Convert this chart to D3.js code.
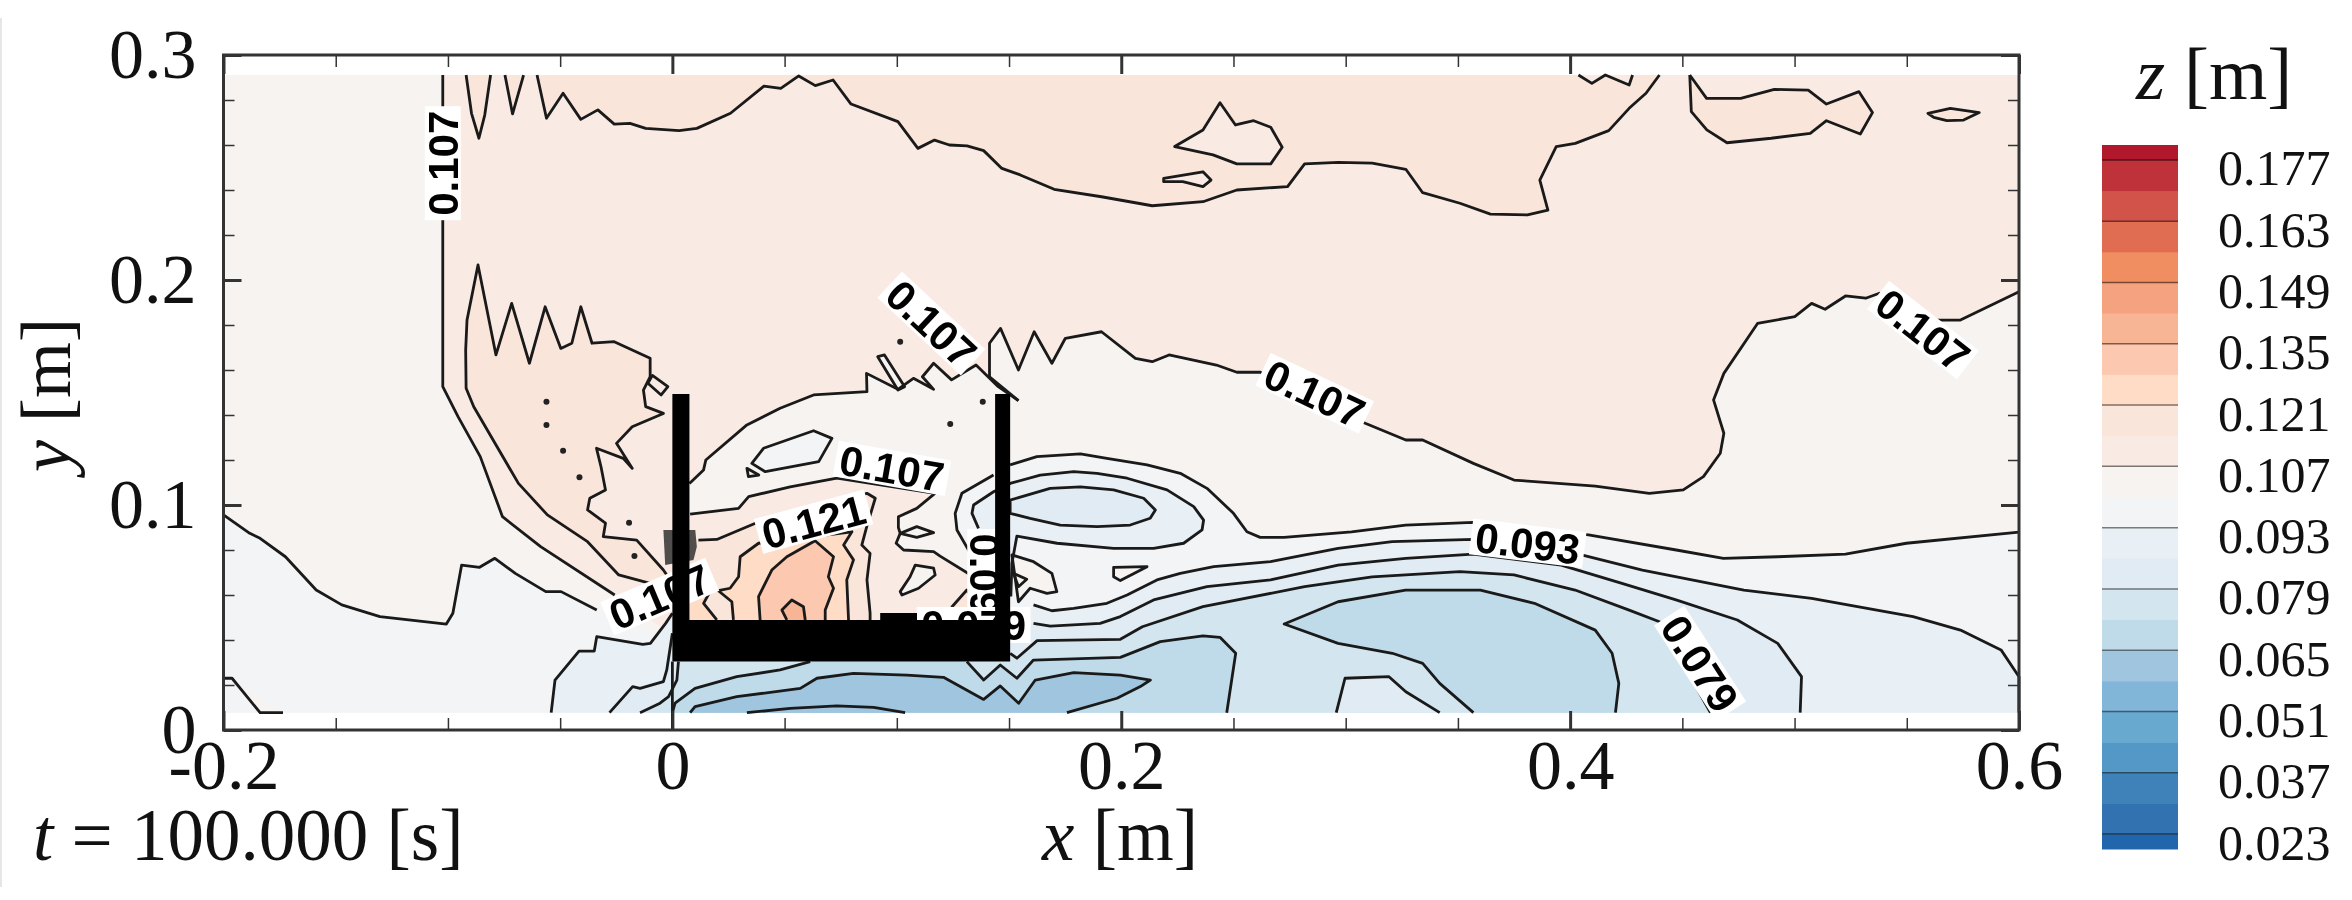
<!DOCTYPE html>
<html>
<head>
<meta charset="utf-8">
<script src="https://cdn.jsdelivr.net/npm/d3@7"></script>
<style>
    html, body { margin: 0; padding: 0; background: #fff; }
    svg { display: block; filter: blur(0.7px); }
    text { font-family: "Liberation Serif", serif; fill: #111; }
    .contour-label { font-family: "Liberation Sans", sans-serif; font-weight: bold; fill: #000; }
</style>
</head>
<body>
<svg id="chart" width="2352" height="900"></svg>
<script>
// Axis ticks
const xMajor = [-0.2, 0, 0.2, 0.4, 0.6];
const xLabels = ['-0.2', '0', '0.2', '0.4', '0.6'];
const xMinor = [-0.15, -0.1, -0.05, 0.05, 0.1, 0.15, 0.25, 0.3, 0.35, 0.45, 0.5, 0.55];
const yMajor = [0, 0.1, 0.2, 0.3];
const yLabels = ['0', '0.1', '0.2', '0.3'];
const yMinor = [0.02, 0.04, 0.06, 0.08, 0.12, 0.14, 0.16, 0.18, 0.22, 0.24, 0.26, 0.28];

// Colour legend
const bandEdges = [0.023, 0.03, 0.037, 0.044, 0.051, 0.058, 0.065, 0.072, 0.079, 0.086, 0.093, 0.1, 0.107,
    0.114, 0.121, 0.128, 0.135, 0.142, 0.149, 0.156, 0.163, 0.17, 0.177];
const bandColors = ['#2166ac', '#3372b0', '#3f81b9', '#5498c7', '#68a9d0', '#82b6d8', '#9fc5df', '#bfdbea',
    '#d3e6f0', '#e0ebf3', '#e8eff5', '#f3f4f6', '#f6f3f0', '#f9ebe4', '#f9e5d9', '#fedcc6', '#fcc8b0',
    '#f7b596', '#f4a27f', '#f08e62', '#e06d52', '#d1534a', '#c0323a', '#b2182b'];
const legendLevels = [0.177, 0.163, 0.149, 0.135, 0.121, 0.107, 0.093, 0.079, 0.065, 0.051, 0.037, 0.023];
const legendRange = [0.0196, 0.1804];

// Extent of the sampled field
const fieldX = [-0.2, 0.6];
const fieldY = [0.0077, 0.2911];

// Contours, [x, y] in metres
const line107Left = [[-0.1023, 0.2911], [-0.1023, 0.1526], [-0.0955, 0.1393], [-0.0856, 0.1215], [-0.0757, 0.0948],
    [-0.0587, 0.0815], [-0.0257, 0.06]];
const line107Cavity = [[0.0076, 0.1096], [0.0139, 0.1156], [0.0149, 0.12], [0.0332, 0.1356], [0.048, 0.143],
    [0.0629, 0.1489], [0.0867, 0.1504], [0.0865, 0.1585], [0.1005, 0.1514], [0.1074, 0.1563], [0.1164, 0.1514],
    [0.1114, 0.157], [0.1164, 0.163], [0.1244, 0.1556], [0.1353, 0.1622], [0.1452, 0.1526], [0.1542, 0.1464]];
const line107Right = [[0.1542, 0.1464], [0.1413, 0.157], [0.1413, 0.1719], [0.1462, 0.1785], [0.1542, 0.16],
    [0.1612, 0.177], [0.1691, 0.163], [0.1751, 0.1741], [0.1912, 0.177], [0.2063, 0.1652], [0.2138, 0.1637],
    [0.2213, 0.1667], [0.2424, 0.1622], [0.2515, 0.159], [0.262, 0.159], [0.3087, 0.1363], [0.3268, 0.1289],
    [0.3343, 0.1289], [0.3569, 0.1185], [0.375, 0.1111], [0.4112, 0.1084], [0.4353, 0.1052], [0.4504, 0.1067],
    [0.4594, 0.1126], [0.4669, 0.123], [0.4685, 0.1319], [0.4639, 0.1467], [0.4685, 0.1585], [0.4835, 0.1807],
    [0.5001, 0.1837], [0.5076, 0.1896], [0.5136, 0.187], [0.5227, 0.1929], [0.5317, 0.1919], [0.5378, 0.1941],
    [0.5634, 0.1822], [0.5739, 0.1822], [0.6, 0.1948]];
const line107Floor = [[0.0079, 0.0959], [0.0295, 0.0985], [0.034, 0.1037], [0.0525, 0.1081], [0.0733, 0.1119],
    [0.117, 0.1052], [0.1089, 0.0985], [0.1007, 0.0948], [0.1007, 0.09], [0.1015, 0.0874], [0.0997, 0.083],
    [0.103, 0.08], [0.1164, 0.0793], [0.1193, 0.0773], [0.1342, 0.0681]];
const line114Top1 = [[-0.0919, 0.2911], [-0.0895, 0.2741], [-0.0862, 0.263], [-0.0836, 0.2733], [-0.081, 0.2911]];
const line114Top2 = [[-0.0746, 0.2911], [-0.0712, 0.2738], [-0.0663, 0.2911]];
const line114Top = [[-0.0603, 0.2911], [-0.0561, 0.2719], [-0.0487, 0.283], [-0.0408, 0.2714], [-0.0332, 0.2756],
    [-0.0259, 0.2693], [-0.0189, 0.2696], [-0.0119, 0.2674], [0.003, 0.2664], [0.0109, 0.2674], [0.0259, 0.2741],
    [0.0408, 0.2862], [0.0483, 0.2852], [0.0563, 0.2907], [0.0637, 0.2864], [0.0716, 0.2889], [0.0796, 0.2782],
    [0.1005, 0.2704], [0.1094, 0.2585], [0.1168, 0.2622], [0.1234, 0.26], [0.1313, 0.2596], [0.1387, 0.2575],
    [0.1468, 0.2496], [0.155, 0.2467], [0.1701, 0.2403], [0.1912, 0.237], [0.2138, 0.233], [0.2364, 0.2348],
    [0.2515, 0.24], [0.2741, 0.2415], [0.2817, 0.2516], [0.2967, 0.2523], [0.3118, 0.2519], [0.3268, 0.2492],
    [0.3343, 0.2388], [0.3509, 0.2341], [0.3645, 0.2293], [0.381, 0.2289], [0.3901, 0.2311], [0.3865, 0.2444],
    [0.3938, 0.2593], [0.4023, 0.2607], [0.4172, 0.2664], [0.4263, 0.2763], [0.4338, 0.283], [0.4398, 0.2911]];
const line114Notch = [[0.4037, 0.2911], [0.4097, 0.2874], [0.4157, 0.2911], [0.4263, 0.2867], [0.4278, 0.2911]];
const ring114Isle1 = [[0.244, 0.2788], [0.2509, 0.2689], [0.259, 0.2708], [0.2666, 0.2679], [0.2717, 0.259],
    [0.2666, 0.2516], [0.2515, 0.2516], [0.2409, 0.2556], [0.2238, 0.2593], [0.2364, 0.2667]];
const ring114Isle2 = [[0.2189, 0.2452], [0.2364, 0.2481], [0.24, 0.2444], [0.2364, 0.2415], [0.2274, 0.2437], [0.2189, 0.2437]];
const line114Right = [[0.4533, 0.2911], [0.4608, 0.2807], [0.476, 0.2807], [0.491, 0.2847], [0.5061, 0.2844],
    [0.5142, 0.2782], [0.5287, 0.2837], [0.5347, 0.2744], [0.5293, 0.2649], [0.5142, 0.2708], [0.507, 0.2652],
    [0.4896, 0.263], [0.4699, 0.261], [0.4609, 0.2667], [0.454, 0.2748], [0.4533, 0.2911]];
const ring114Small = [[0.5594, 0.2741], [0.5694, 0.2763], [0.5823, 0.2744], [0.5753, 0.2711], [0.5679, 0.2708], [0.562, 0.2723]];
const ring114Left = [[-0.0921, 0.1689], [-0.0915, 0.1822], [-0.0866, 0.2067], [-0.0786, 0.1667], [-0.0716, 0.1896],
    [-0.0637, 0.163], [-0.0567, 0.1881], [-0.0497, 0.1696], [-0.0448, 0.1719], [-0.0408, 0.1881], [-0.0358, 0.1719],
    [-0.0259, 0.1726], [-0.0099, 0.1652], [-0.0099, 0.157], [-0.0129, 0.1511], [-0.0119, 0.1437], [-0.004, 0.1407],
    [-0.0179, 0.1348], [-0.0249, 0.1274], [-0.0179, 0.1163], [-0.0219, 0.1207], [-0.0338, 0.1252], [-0.0318, 0.117],
    [-0.0298, 0.1067], [-0.0368, 0.103], [-0.0378, 0.0978], [-0.0298, 0.0919], [-0.0308, 0.0859], [-0.0159, 0.0844],
    [-0.004, 0.0711], [0, 0.0652], [-0.0099, 0.0652], [-0.0239, 0.0689], [-0.0378, 0.0837], [-0.0557, 0.0956],
    [-0.0686, 0.1096], [-0.0885, 0.1437], [-0.0919, 0.1519]];
const ring114Pocket = [[-0.0089, 0.1576], [-0.002, 0.1526], [-0.005, 0.1489], [-0.0109, 0.1541]];
const ringSliver = [[0.0915, 0.1659], [0.0945, 0.1667], [0.1035, 0.1526], [0.1005, 0.1511]];
const ringGapIsle = [[0.0354, 0.1185], [0.0406, 0.1252], [0.0629, 0.133], [0.0711, 0.1296], [0.0652, 0.1193], [0.0414, 0.1148]];
const ringGapTip = [[0.0332, 0.1163], [0.0385, 0.1133], [0.0339, 0.1126]];
const ringFloorIsle = [[0.1015, 0.0615], [0.1059, 0.0681], [0.1082, 0.0733], [0.1164, 0.0719], [0.1171, 0.0689], [0.1097, 0.063], [0.1023, 0.06]];
const ringLens = [[0.1015, 0.0874], [0.1089, 0.0904], [0.1164, 0.0877], [0.1089, 0.0856]];
const lineCavity114 = [[0.0116, 0.0844], [0.0198, 0.0847], [0.037, 0.0919], [0.0867, 0.1052], [0.0904, 0.103],
    [0.0866, 0.0904], [0.0844, 0.0822], [0.0881, 0.0785], [0.0867, 0.0667], [0.0881, 0.0519], [0.0881, 0.0489]];
const lineCavity121 = [[0.0272, 0.0489], [0.0265, 0.057], [0.0205, 0.0619], [0.0257, 0.063], [0.0295, 0.0681],
    [0.0302, 0.077], [0.0384, 0.083], [0.0629, 0.0859], [0.08, 0.0881], [0.0763, 0.0822], [0.0807, 0.0756],
    [0.0777, 0.0667], [0.0785, 0.0489]];
const lineCavityWall = [[0.0198, 0.0489], [0.0139, 0.0563], [0.0176, 0.063]];
const lineCavity128 = [[0.0391, 0.0489], [0.0384, 0.0593], [0.0443, 0.0711], [0.051, 0.077], [0.0636, 0.0841],
    [0.0718, 0.077], [0.0695, 0.0681], [0.0718, 0.063], [0.0681, 0.0533], [0.0681, 0.0489]];
const lineCavity135 = [[0.051, 0.0489], [0.0488, 0.0533], [0.0532, 0.0578], [0.0584, 0.0548], [0.0592, 0.0489]];
const lineFloorPeak = [[0.1246, 0.0489], [0.1246, 0.0548], [0.1312, 0.0622], [0.1357, 0.0563], [0.1357, 0.0489]];
const line100Left = [[-0.2, 0.0956], [-0.1883, 0.0874], [-0.1837, 0.0852], [-0.1724, 0.077], [-0.1587, 0.0622],
    [-0.1473, 0.0556], [-0.1303, 0.0504], [-0.1007, 0.0471], [-0.0978, 0.0519], [-0.0939, 0.0733], [-0.0859, 0.0723],
    [-0.0791, 0.0763], [-0.07, 0.0696], [-0.0564, 0.0615], [-0.0496, 0.0615], [-0.0337, 0.0533]];
const line100EddyLeft = [[0.1335, 0.0773], [0.1268, 0.0889], [0.126, 0.0963], [0.129, 0.1052], [0.1431, 0.1133]];
const line100Right = [[0.1505, 0.1178], [0.1624, 0.1215], [0.1818, 0.1227], [0.1936, 0.1207], [0.2115, 0.1178],
    [0.2263, 0.1141], [0.2382, 0.1074], [0.25, 0.0963], [0.256, 0.0881], [0.2619, 0.0856], [0.2725, 0.0856],
    [0.3026, 0.0881], [0.3267, 0.0911], [0.3568, 0.0923], [0.4082, 0.0867], [0.4473, 0.08], [0.4683, 0.0763],
    [0.4925, 0.077], [0.5227, 0.0782], [0.5498, 0.083], [0.6, 0.0879]];
const ringPocket100 = [[0.1513, 0.0778], [0.1609, 0.0748], [0.1691, 0.0696], [0.1713, 0.0615], [0.1669, 0.0607], [0.1594, 0.063], [0.1542, 0.057]];
const ringPocketCore = [[0.152, 0.0696], [0.1579, 0.067], [0.1542, 0.0637]];
const ringTriangle = [[0.1966, 0.0723], [0.2115, 0.0726], [0.1996, 0.0664], [0.1966, 0.0681]];
const lineCorner100 = [[-0.2, 0.023], [-0.1962, 0.023], [-0.1837, 0.0077], [-0.1735, 0.0077]];
const line93Left = [[-0.054, 0.0077], [-0.0523, 0.0222], [-0.0416, 0.0351], [-0.0348, 0.0351], [-0.0337, 0.0415],
    [-0.0132, 0.0381], [-0.0098, 0.0385], [-0.003, 0.0474], [0, 0.0519]];
const line93Eddy = [[0.1364, 0.0896], [0.1335, 0.0963], [0.1342, 0.1], [0.1431, 0.1059], [0.1505, 0.1096], [0.1639, 0.1133],
    [0.1788, 0.1148], [0.1892, 0.1141], [0.2026, 0.1119], [0.2204, 0.1067], [0.2323, 0.0993], [0.2367, 0.0933],
    [0.236, 0.0889], [0.2278, 0.083], [0.2144, 0.0807], [0.1966, 0.0807], [0.1714, 0.083], [0.1535, 0.0862],
    [0.1513, 0.0741], [0.1508, 0.0593]];
const line86Eddy = [[0.1505, 0.1022], [0.1683, 0.1074], [0.1818, 0.1081], [0.1966, 0.1067], [0.21, 0.103], [0.2152, 0.0978],
    [0.2129, 0.0941], [0.204, 0.0911], [0.1892, 0.0904], [0.1728, 0.0911], [0.1594, 0.0941], [0.1505, 0.0963]];
const line93Right = [[0.1609, 0.0556], [0.1691, 0.053], [0.1788, 0.0541], [0.1936, 0.0563], [0.2026, 0.06], [0.2159, 0.0667],
    [0.2263, 0.0696], [0.2412, 0.0726], [0.2665, 0.0748], [0.2966, 0.0807], [0.3207, 0.0837], [0.3569, 0.0847],
    [0.4051, 0.0778], [0.4322, 0.0711], [0.4774, 0.0622], [0.5076, 0.0585], [0.5528, 0.0504], [0.5739, 0.0444],
    [0.592, 0.0356], [0.6, 0.0237], [0.6, 0.0077]];
const line86Left = [[-0.028, 0.0077], [-0.0177, 0.0193], [-0.0144, 0.0185], [-0.004, 0.0215], [-0.0025, 0.0267], [0, 0.043]];
const line86Right = [[0.1609, 0.0474], [0.1684, 0.0462], [0.1906, 0.0474], [0.1996, 0.0504], [0.2144, 0.0578], [0.2382, 0.0637],
    [0.2665, 0.0667], [0.2966, 0.0733], [0.3267, 0.0763], [0.3568, 0.0782], [0.396, 0.0733], [0.4231, 0.0652],
    [0.4472, 0.0578], [0.4745, 0.0489], [0.4925, 0.0385], [0.5031, 0.0237], [0.5025, 0.0077]];
const line79Left = [[-0.0144, 0.0077], [-0.0055, 0.0119], [-0.0017, 0.0148], [0.002, 0.0222], [0.0027, 0.0304]];
const line79Right = [[0.1505, 0.0341], [0.1535, 0.0319], [0.1625, 0.0397], [0.1996, 0.0403], [0.2094, 0.0459], [0.2364, 0.0548],
    [0.2817, 0.0637], [0.3118, 0.0681], [0.3509, 0.0704], [0.375, 0.0689], [0.4022, 0.0622], [0.4263, 0.0533],
    [0.4398, 0.0481], [0.4625, 0.0077]];
const line72Left = [[0, 0.0077], [0.0012, 0.0119], [0.0101, 0.0185], [0.0287, 0.0237], [0.048, 0.0267], [0.0614, 0.0304]];
const line72Right = [[0.1312, 0.0304], [0.1387, 0.0222], [0.1461, 0.0289], [0.1535, 0.023], [0.1609, 0.0311], [0.1996, 0.0323],
    [0.2174, 0.0393], [0.2364, 0.0418], [0.244, 0.0412], [0.251, 0.0341], [0.247, 0.0077]];
const line72Isle = [[0.3569, 0.0077], [0.3419, 0.0207], [0.3343, 0.0296], [0.3208, 0.0341], [0.2966, 0.0385], [0.2726, 0.0471],
    [0.2966, 0.057], [0.3267, 0.0622], [0.36, 0.0622], [0.3841, 0.0563], [0.4112, 0.0444], [0.4187, 0.0341],
    [0.4217, 0.0207], [0.4202, 0.0077]];
const line79Isle = [[0.2958, 0.0077], [0.2997, 0.023], [0.3193, 0.0237], [0.3268, 0.017], [0.3419, 0.0077]];
const line65Basin = [[0.0079, 0.0077], [0.0101, 0.0104], [0.0287, 0.0148], [0.057, 0.0185], [0.0644, 0.023], [0.0807, 0.0252],
    [0.1045, 0.0244], [0.1208, 0.0234], [0.1387, 0.0136], [0.1461, 0.0196], [0.1543, 0.0119], [0.1617, 0.0222],
    [0.1788, 0.0255], [0.1996, 0.0244], [0.213, 0.0222], [0.2085, 0.0193], [0.1981, 0.0141], [0.1758, 0.0077]];
const line58Basin = [[0.0332, 0.0077], [0.0525, 0.0096], [0.0733, 0.0107], [0.0897, 0.0101], [0.1037, 0.0077]];
const lineWallBase = [[0, 0.0304], [0, 0]];

// Isolated specks on the contour map
const specks = [[-0.0561, 0.1459], [-0.0561, 0.1356], [-0.0487, 0.1241], [-0.0414, 0.1123], [-0.0193, 0.0921],
    [-0.0169, 0.0773], [0.1015, 0.1726], [0.1383, 0.1459], [0.1238, 0.136]];

// Flume wall outline and the dark smear of contours on it
const wallOutline = [[0, 0.1493], [0.0076, 0.1493], [0.0076, 0.0489], [0.0926, 0.0489], [0.0926, 0.052], [0.109, 0.052],
    [0.109, 0.0489], [0.1438, 0.0489], [0.1438, 0.1493], [0.1505, 0.1493], [0.1505, 0.0304], [0, 0.0304]];
const wallSmear = [[-0.004, 0.0889], [0.0102, 0.0889], [0.0109, 0.0815], [0.0094, 0.0756], [-0.0032, 0.0733]];

// Inline contour labels: text, x, y, angle
const labelText = ['0.107', '0.107', '0.107', '0.121', '0.107', '0.107', '0.093', '0.079', '0.107', '0.093', '0.079'];
const labelX = [-0.1023, 0.1154, 0.0978, 0.0629, 0.2862, 0.5572, 0.3811, 0.4579, -0.0056, 0.1394, 0.1342];
const labelY = [0.2519, 0.1807, 0.1163, 0.0926, 0.1496, 0.1778, 0.083, 0.0296, 0.0593, 0.064, 0.0467];
const labelAngle = [-90, 43, 10, -15, 25, 38, 7, 57, -23, 90, 0];

const width = 2352;
const height = 900;
const plot = { left: 223.5, right: 2019, top: 55, bottom: 730 };

const svg = d3.select('#chart');

const x = d3.scaleLinear().domain([-0.2, 0.6]).range([plot.left, plot.right]);
const y = d3.scaleLinear().domain([0, 0.3]).range([plot.bottom, plot.top]);
const legendY = d3.scaleLinear().domain(legendRange).range([849, 145]);

const bandColor = d3.scaleThreshold().domain(bandEdges).range(bandColors);

const path = d3.line().x(d => x(d[0])).y(d => y(d[1]));
const closedPath = d3.line().x(d => x(d[0])).y(d => y(d[1])).curve(d3.curveLinearClosed);

// Scan edge on the left of the picture
svg.append('rect')
    .attr('x', 0)
    .attr('y', 18)
    .attr('width', 2)
    .attr('height', 869)
    .attr('fill', '#e6e6e6');

// Filled bands, painted from the bottom up
const [x0, x1] = fieldX;
const [y0, y1] = fieldY;
const slabY = 0.04;
const fills = [
    [0.1035, [[x0, y0], [x0, y1], [x1, y1], [x1, y0]]],
    [0.1105, [...line107Left, [0.003, slabY], [0.147, slabY], [0.15, 0.1464], ...line107Right, [x1, y1]]],
    [0.1175, line114Top1],
    [0.1175, line114Top2],
    [0.1175, [...line114Top]],
    [0.1105, line114Notch],
    [0.1105, ring114Isle1],
    [0.1105, ring114Isle2],
    [0.1175, line114Right],
    [0.1175, ring114Small],
    [0.1175, ring114Left],
    [0.1105, ring114Pocket],
    [0.1035, [...line107Cavity, [0.147, 0.0646], ...line107Floor.slice().reverse()]],
    [0.1035, ringSliver],
    [0.0965, ringGapIsle],
    [0.0965, ringGapTip],
    [0.1175, [[0.0076, 0.0844], ...lineCavity114, [0.0076, 0.0489]]],
    [0.1245, [[0.0076, 0.0489], ...lineCavityWall, [0.0076, 0.066]]],
    [0.1245, lineCavity121],
    [0.1315, lineCavity128],
    [0.1385, lineCavity135],
    [0.1175, lineFloorPeak],
    [0.1035, ringFloorIsle],
    [0.1035, ringLens],
    [0.0965, [[x0, y0], ...line100Left, [0, slabY], [0.1505, slabY], ...line100Right, [x1, y0]]],
    [0.0965, [...line100EddyLeft, [0.1438, 0.06]]],
    [0.1035, lineCorner100],
    [0.1035, ringPocket100],
    [0.1035, ringTriangle],
    [0.0895, [...line93Left, [0, slabY], [0.1508, slabY], ...line93Right]],
    [0.0895, line93Eddy],
    [0.0825, line86Eddy],
    [0.0825, [...line86Left, [0.1509, slabY], ...line86Right]],
    [0.0755, [...line79Left, [0.1505, 0.0304], ...line79Right]],
    [0.0685, [...line72Left, ...line72Right]],
    [0.0685, line72Isle],
    [0.0825, line79Isle],
    [0.0615, line65Basin],
    [0.0615, line58Basin]
];

svg.append('g')
    .selectAll('path')
    .data(fills)
    .join('path')
    .attr('d', d => closedPath(d[1]))
    .attr('fill', d => bandColor(d[0]));

// Contour lines
const openLines = [line107Left, line107Cavity, line107Right, line107Floor, line114Top1, line114Top2, line114Top, line114Notch,
    line114Right, lineCavity114, lineCavity121, lineCavityWall, lineCavity128, lineCavity135, lineFloorPeak, line100Left,
    line100EddyLeft, line100Right, lineCorner100, line93Left, line93Eddy, line93Right, line86Left, line86Right, line79Left,
    line79Right, line72Left, line72Right, line72Isle, line79Isle, line65Basin, line58Basin, lineWallBase];
const closedLines = [ring114Isle1, ring114Isle2, ring114Small, ring114Left, ring114Pocket, ringSliver, ringGapIsle, ringGapTip,
    ringFloorIsle, ringLens, ringPocket100, ringPocketCore, ringTriangle, line86Eddy];

const contourStyle = sel => sel
    .attr('fill', 'none')
    .attr('stroke', '#1a1a1a')
    .attr('stroke-width', 2.8)
    .attr('stroke-linejoin', 'round');

svg.append('g')
    .selectAll('path')
    .data(openLines)
    .join('path')
    .attr('d', path)
    .call(contourStyle);

svg.append('g')
    .selectAll('path')
    .data(closedLines)
    .join('path')
    .attr('d', closedPath)
    .call(contourStyle);

svg.append('g')
    .selectAll('circle')
    .data(specks)
    .join('circle')
    .attr('cx', d => x(d[0]))
    .attr('cy', d => y(d[1]))
    .attr('r', 3)
    .attr('fill', '#222');

// Contour labels sit under the wall
const labels = svg.append('g')
    .selectAll('g')
    .data(labelText)
    .join('g')
    .attr('transform', (d, i) => `translate(${x(labelX[i])},${y(labelY[i])}) rotate(${labelAngle[i]})`);

labels.append('rect')
    .attr('x', -57)
    .attr('y', -18)
    .attr('width', 114)
    .attr('height', 36)
    .attr('fill', '#fff');

labels.append('text')
    .attr('class', 'contour-label')
    .attr('text-anchor', 'middle')
    .attr('dy', '0.36em')
    .attr('font-size', 42)
    .text(d => d);

// Wall
svg.append('path')
    .attr('d', closedPath(wallSmear))
    .attr('fill', '#333')
    .attr('fill-opacity', 0.85);

svg.append('path')
    .attr('d', closedPath(wallOutline))
    .attr('fill', '#000');

// Frame
svg.append('rect')
    .attr('x', plot.left)
    .attr('y', plot.top)
    .attr('width', plot.right - plot.left)
    .attr('height', plot.bottom - plot.top)
    .attr('fill', 'none')
    .attr('stroke', '#333')
    .attr('stroke-width', 3);

// Axes
function addTicks(axis, transform, strokeWidth) {
    svg.append('g')
        .attr('transform', transform)
        .call(axis)
        .call(g => g.select('.domain').remove())
        .selectAll('.tick line')
        .attr('stroke', '#333')
        .attr('stroke-width', strokeWidth);
}

const xFormat = d => xLabels[xMajor.indexOf(d)];
const yFormat = d => yLabels[yMajor.indexOf(d)];
const xSpan = `translate(0,${plot.bottom})`;
const xTop = `translate(0,${plot.top})`;
const ySpan = `translate(${plot.left},0)`;
const yRight = `translate(${plot.right},0)`;

addTicks(d3.axisBottom(x).tickValues(xMajor).tickSize(-19).tickPadding(9).tickFormat(xFormat), xSpan, 3);
addTicks(d3.axisBottom(x).tickValues(xMinor).tickSize(-12).tickFormat(''), xSpan, 1.5);
addTicks(d3.axisTop(x).tickValues(xMajor).tickSize(-19).tickFormat(''), xTop, 3);
addTicks(d3.axisTop(x).tickValues(xMinor).tickSize(-12).tickFormat(''), xTop, 1.5);
addTicks(d3.axisLeft(y).tickValues(yMajor).tickSize(-18).tickPadding(27).tickFormat(yFormat), ySpan, 3);
addTicks(d3.axisLeft(y).tickValues(yMinor).tickSize(-11).tickFormat(''), ySpan, 1.5);
addTicks(d3.axisRight(y).tickValues(yMajor).tickSize(-18).tickFormat(''), yRight, 3);
addTicks(d3.axisRight(y).tickValues(yMinor).tickSize(-11).tickFormat(''), yRight, 1.5);

svg.selectAll('.tick text')
    .attr('font-family', '"Liberation Serif", serif')
    .attr('font-size', 70)
    .attr('fill', '#111');

// Axis titles
const xTitle = svg.append('text')
    .attr('x', 1042)
    .attr('y', 860)
    .attr('font-size', 73);
xTitle.append('tspan').attr('font-style', 'italic').text('x');
xTitle.append('tspan').text(' [m]');

const yTitle = svg.append('text')
    .attr('transform', 'translate(70,395) rotate(-90)')
    .attr('text-anchor', 'middle')
    .attr('font-size', 72);
yTitle.append('tspan').attr('font-style', 'italic').text('y');
yTitle.append('tspan').text(' [m]');

const timeLabel = svg.append('text')
    .attr('x', 33)
    .attr('y', 860)
    .attr('font-size', 73);
timeLabel.append('tspan').attr('font-style', 'italic').text('t');
timeLabel.append('tspan').text(' = 100.000 [s]');

// Legend
const legendBands = bandColors.map((color, i) => ({
    color,
    low: i === 0 ? legendRange[0] : bandEdges[i - 1],
    high: i === bandColors.length - 1 ? legendRange[1] : bandEdges[i]
}));

const legendX = 2102;
const legendWidth = 76;

svg.append('g')
    .selectAll('rect')
    .data(legendBands)
    .join('rect')
    .attr('x', legendX)
    .attr('y', d => legendY(d.high))
    .attr('width', legendWidth)
    .attr('height', d => legendY(d.low) - legendY(d.high) + 0.5)
    .attr('fill', d => d.color);

svg.append('g')
    .selectAll('line')
    .data(legendLevels)
    .join('line')
    .attr('x1', legendX)
    .attr('x2', legendX + legendWidth)
    .attr('y1', d => legendY(d))
    .attr('y2', d => legendY(d))
    .attr('stroke', '#000')
    .attr('stroke-opacity', 0.5)
    .attr('stroke-width', 1.5);

svg.append('g')
    .attr('transform', `translate(${legendX + legendWidth},0)`)
    .call(d3.axisRight(legendY).tickValues(legendLevels).tickSize(0).tickPadding(40).tickFormat(d3.format('.3f')))
    .call(g => g.select('.domain').remove())
    .selectAll('text')
    .attr('dy', '0.5em')
    .attr('font-family', '"Liberation Serif", serif')
    .attr('font-size', 50)
    .attr('fill', '#111');

const legendTitle = svg.append('text')
    .attr('x', 2136)
    .attr('y', 99)
    .attr('font-size', 75);
legendTitle.append('tspan').attr('font-style', 'italic').text('z');
legendTitle.append('tspan').text(' [m]');
</script>
</body>
</html>
